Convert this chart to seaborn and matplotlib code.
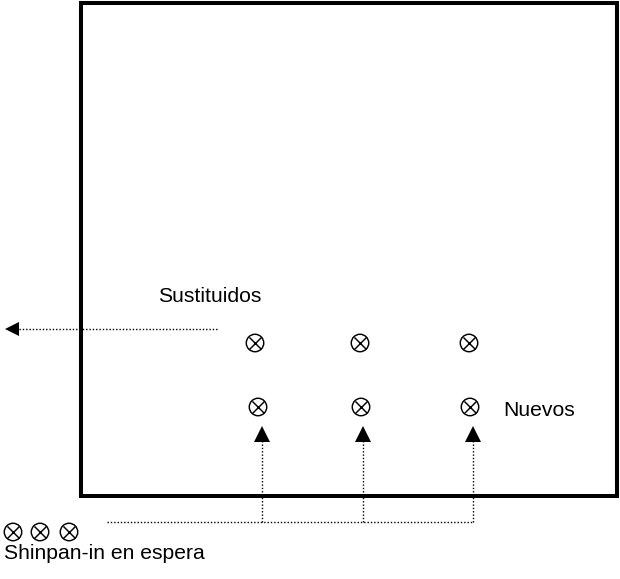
import matplotlib
matplotlib.use("Agg")
import matplotlib.pyplot as plt
import seaborn as sns
import pandas as pd
from matplotlib.patches import Rectangle

# ---- data (diagram positions in pixel units) ----
group_names = ["Sustituidos", "Nuevos", "Shinpan-in en espera"]
sust_x = [255, 360, 469]
sust_y = [343, 343, 343]
nuevos_x = [258, 361, 470]
nuevos_y = [407, 407, 407]
espera_x = [13, 40, 69]
espera_y = [532, 532, 532]
arrow_x = [262, 363, 473]
label_pos = [(158, 302), (503, 416), (4, 559)]

sns.set_theme(style="white")
plt.rcParams['font.family'] = ['Liberation Sans', 'DejaVu Sans']

fig = plt.figure(figsize=(6.2, 5.79), dpi=100)
ax = fig.add_axes([0, 0, 1, 1])
ax.set_xlim(0, 620)
ax.set_ylim(579, 0)
ax.axis("off")

# box
ax.add_patch(Rectangle((81, 3), 617 - 81, 495.5 - 3, fill=False,
                       edgecolor="black", linewidth=2.9))

# points (circle with cross: ⊗)
df = pd.DataFrame({
    "x": sust_x + nuevos_x + espera_x,
    "y": sust_y + nuevos_y + espera_y,
    "g": [group_names[0]] * 3 + [group_names[1]] * 3 + [group_names[2]] * 3,
})
sns.scatterplot(data=df, x="x", y="y", marker="o", s=158,
                facecolor="none", edgecolor="black", linewidth=1.05,
                ax=ax, legend=False)
sns.scatterplot(data=df, x="x", y="y", marker="x", s=76,
                color="black", linewidth=1.05, ax=ax, legend=False)

dot = dict(color="black", linewidth=1.0, linestyle=(0, (1, 1.4)))

# left arrow (replaced)
ax.plot([217, 18], [329, 329], **dot)
ax.plot([12], [329], marker="<", markersize=10.5, color="black",
        markeredgewidth=0, linestyle="none")

# bottom connector + up arrows
ax.plot([107, arrow_x[-1]], [522, 522], **dot)
for xa in arrow_x:
    ax.plot([xa, xa], [522, 440], **dot)
ax.plot(arrow_x, [434] * 3, marker="^", markersize=11.5, color="black",
        markeredgewidth=0, linestyle="none")

# labels
for name, (lx, ly) in zip(group_names, label_pos):
    ax.text(lx, ly, name, fontsize=15.2, color="black", ha="left", va="baseline")

fig.savefig("out.png", dpi=100)
